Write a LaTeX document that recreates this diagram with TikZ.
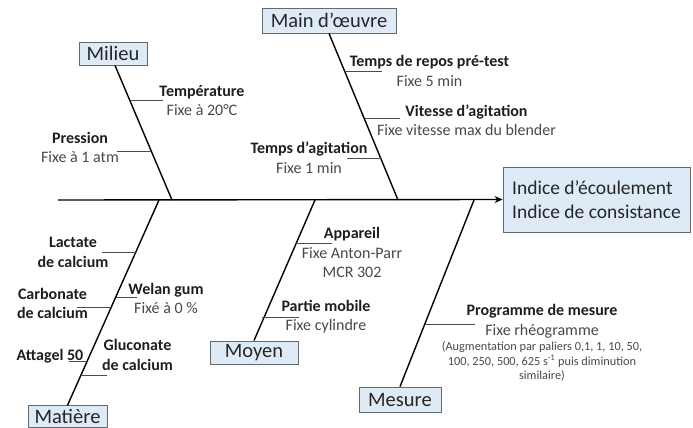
\documentclass[tikz,border=0pt]{standalone}
\usepackage{fontspec}
\setmainfont{Carlito}
\usepackage{xcolor}
\usepackage{tikz}
\usetikzlibrary{positioning,arrows.meta}
\definecolor{boxfill}{RGB}{222,234,246}
\definecolor{boxline}{RGB}{98,106,114}
\definecolor{labeltext}{RGB}{30,30,30}
\definecolor{valuetext}{RGB}{72,72,72}

\begin{document}
\begin{tikzpicture}[x=1pt, y=-1pt, category/.style={draw=boxline, fill=boxfill, line width=0.9pt, inner sep=0pt, font=\fontsize{20.5}{23}\selectfont, text=black!85}, effect/.style={draw=boxline, fill=boxfill, line width=0.9pt, inner sep=0pt, minimum width=187pt, minimum height=65pt, align=left, font=\fontsize{19.5}{24}\selectfont, text=black!85}, cause/.style={inner sep=0pt, align=center, font=\fontsize{16}{19.5}\selectfont, text=valuetext}, boldcause/.style={cause, text=labeltext, font=\fontsize{16}{19.5}\selectfont\bfseries}, note/.style={inner sep=0pt, align=center, font=\fontsize{12.3}{14.5}\selectfont, text=valuetext}, bone/.style={draw=black, line width=1.4pt}, twig/.style={draw=black!70, line width=0.9pt}, arrow/.style={-{Stealth[length=8pt,width=7pt]}, draw=black, line width=1.4pt}]
\useasboundingbox (0,0) rectangle (693,428);
% spine and effect
\node[effect] (effet) at (596.5,199.5) {Indice d'écoulement\\Indice de consistance};
\coordinate (tail) at (58,200);
\draw[arrow] (tail) -- (effet.west);
% categories
\node[category, minimum width=68pt, minimum height=23pt] (milieu) at (113,53.5) {Milieu};
\node[category, minimum width=134pt, minimum height=25pt] (main) at (329,20.5) {Main d'œuvre};
\node[category, minimum width=79pt, minimum height=21.5pt] (matiere) at (67.5,416.5) {Matière};
\node[category, minimum width=88pt, minimum height=23pt] (moyen) at (254,352.5) {Moyen};
\node[category, minimum width=82pt, minimum height=25pt] (mesure) at (400,399.5) {Mesure};
\coordinate (mil-end) at (172,200);
\coordinate (main-end) at (398,200);
\coordinate (mat-end) at (159,200);
\coordinate (moy-end) at (315,200);
\coordinate (mes-end) at (474,200);
\draw[bone] ([xshift=2pt]milieu.south) -- (mil-end);
\draw[bone] (main.south) -- (main-end);
\draw[bone] (matiere.north) -- (mat-end);
\draw[bone] (moyen.north) -- (moy-end);
\draw[bone] (mesure.north) -- (mes-end);
% Milieu
\coordinate (temp-a) at (130,100);  \coordinate (temp-b) at (163,100);
\coordinate (pres-a) at (151,151);  \coordinate (pres-b) at (117,151);
\draw[twig] (temp-a) -- (temp-b);
\draw[twig] (pres-a) -- (pres-b);
\node[cause] (temp) at (202,100.5) {\textbf{\color{labeltext}Température}\\Fixe à 20°C};
\node[cause] (pres) at (80,147.5) {\textbf{\color{labeltext}Pression}\\Fixe à 1 atm};
% Main d'oeuvre
\coordinate (repos-a) at (345,71);  \coordinate (repos-b) at (382,71);
\coordinate (vit-a) at (365,118);   \coordinate (vit-b) at (400,118);
\coordinate (agit-a) at (381,158);  \coordinate (agit-b) at (347,158);
\draw[twig] (repos-a) -- (repos-b);
\draw[twig] (vit-a) -- (vit-b);
\draw[twig] (agit-a) -- (agit-b);
\node[cause] (repos) at (429.5,71) {\textbf{\color{labeltext}Temps de repos pré-test}\\Fixe 5 min};
\node[cause] (vit) at (466.5,120) {\textbf{\color{labeltext}Vitesse d'agitation}\\Fixe vitesse max du blender};
\node[cause] (agit) at (309,157.5) {\textbf{\color{labeltext}Temps d'agitation}\\Fixe 1 min};
% Matiere
\coordinate (lact-a) at (136,252);  \coordinate (lact-b) at (102,252);
\coordinate (welan-a) at (116,297); \coordinate (welan-b) at (137,297);
\coordinate (carb-a) at (111,307);  \coordinate (carb-b) at (77,307);
\coordinate (atta-a) at (87,361);   \coordinate (atta-b) at (69,361);
\coordinate (gluc-a) at (81,375);   \coordinate (gluc-b) at (107,375);
\draw[twig] (lact-a) -- (lact-b);
\draw[twig] (welan-a) -- (welan-b);
\draw[twig] (carb-a) -- (carb-b);
\draw[twig] (atta-a) -- (atta-b);
\draw[twig] (gluc-a) -- (gluc-b);
\node[boldcause] (lact) at (73,252.5) {Lactate\\de calcium};
\node[cause] (welan) at (166,298.5) {\textbf{\color{labeltext}Welan gum}\\Fixé à 0 \%};
\node[boldcause] (carb) at (52.5,303.5) {Carbonate\\de calcium};
\node[boldcause] (atta) at (50,356) {Attagel 50};
\node[boldcause] (gluc) at (137.5,355) {Gluconate\\de calcium};
% Moyen
\coordinate (app-a) at (296,243);   \coordinate (app-b) at (332,243);
\coordinate (part-a) at (262,317);  \coordinate (part-b) at (299,317);
\draw[twig] (app-a) -- (app-b);
\draw[twig] (part-a) -- (part-b);
\node[cause] (app) at (352,252.5) {\textbf{\color{labeltext}Appareil}\\Fixe Anton-Parr\\MCR 302};
\node[cause] (part) at (326,316.5) {\textbf{\color{labeltext}Partie mobile}\\Fixe cylindre};
% Mesure
\coordinate (prog-a) at (425,324);  \coordinate (prog-b) at (475,324);
\draw[twig] (prog-a) -- (prog-b);
\node[cause] (prog) at (542,321.5) {\textbf{\color{labeltext}Programme de mesure}\\Fixe rhéogramme};
\node[note] (prog-note) at (542,361.5) {(Augmentation par paliers 0,1, 1, 10, 50,\\100, 250, 500, 625 s\textsuperscript{-1} puis diminution\\similaire)};
\end{tikzpicture}
\end{document}
